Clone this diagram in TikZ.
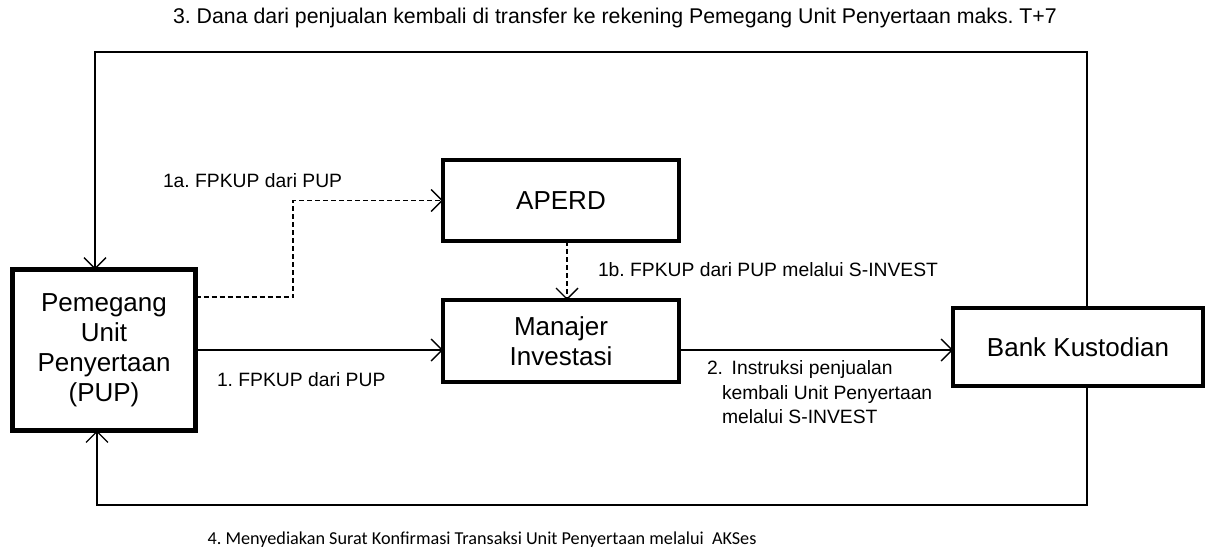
\documentclass[tikz,border=0pt]{standalone}
\usepackage{fontspec}
\setmainfont{Liberation Sans}
\newfontfamily\calfont{Carlito}
\usetikzlibrary{arrows.meta}
\frenchspacing
\begin{document}
\begin{tikzpicture}[y=1pt, x=1pt, yscale=-1, inner sep=0pt, outer sep=0pt,
    box/.style={draw=black, line width=4.5pt, align=center, font=\fontsize{26}{30}\selectfont},
    lbl/.style={font=\fontsize{19.3}{24.5}\selectfont, anchor=west, align=left},
    arr/.style={draw=black, line width=1.4pt, -{Straight Barb[length=11pt,width=22pt,line width=1.4pt]}},
    dashline/.style={dash pattern=on 5pt off 3pt}]
\useasboundingbox (0,0) rectangle (1206,554);
% boxes
\node[box, minimum width=183pt, minimum height=161pt] (pup) at (104,350) {Pemegang\\Unit\\Penyertaan\\(PUP)};
\node[box, minimum width=236pt, minimum height=81pt] (aperd) at (561,200.5) {APERD};
\node[box, minimum width=236pt, minimum height=82pt] (mi) at (561,341) {Manajer\\Investasi};
\node[box, minimum width=250pt, minimum height=78pt] (bank) at (1078,347) {Bank Kustodian};
% corners of the outer loop
\coordinate (tl) at (95,52);
\coordinate (tr) at (1087,52);
\coordinate (bl) at (97,505);
\coordinate (br) at (1087,505);
\coordinate (bend) at (293,297);
% connectors
\path[arr] (pup.east) -- (pup.east -| mi.west);
\path[arr] (mi.east |- pup.east) -- (pup.east -| bank.west);
\path[arr, dashline] (pup.east |- bend) -- (bend) -- (bend |- aperd.west) -- (aperd.west);
\path[arr, dashline] ([xshift=6pt]aperd.south) -- ([xshift=6pt]mi.north);
\path[arr] (bank.north -| tr) -- (tr) -- (tl) -- (pup.north -| tl);
\path[arr] (bank.south -| br) -- (br) -- (bl) -- (pup.south -| bl);
% labels
\node[lbl, anchor=center, font=\fontsize{21.3}{25}\selectfont] (t3) at (615,18) {3. Dana dari penjualan kembali di transfer ke rekening Pemegang Unit Penyertaan maks. T+7};
\node[lbl] (t1a) at (163,181) {1a. FPKUP dari PUP};
\node[lbl] (t1b) at (598,270) {1b. FPKUP dari PUP melalui S-INVEST};
\node[lbl] (t1) at (217,380) {1. FPKUP dari PUP};
\node[lbl, anchor=north west] (t2) at (707,361) {2.~\,Instruksi penjualan\\\hspace*{15pt}kembali Unit Penyertaan\\\hspace*{15pt}melalui S-INVEST};
\node[lbl, anchor=center, font=\calfont\fontsize{18.2}{22}\selectfont] (t4) at (482,540) {4. Menyediakan Surat Konfirmasi Transaksi Unit Penyertaan melalui\ \ AKSes};
\end{tikzpicture}
\end{document}
